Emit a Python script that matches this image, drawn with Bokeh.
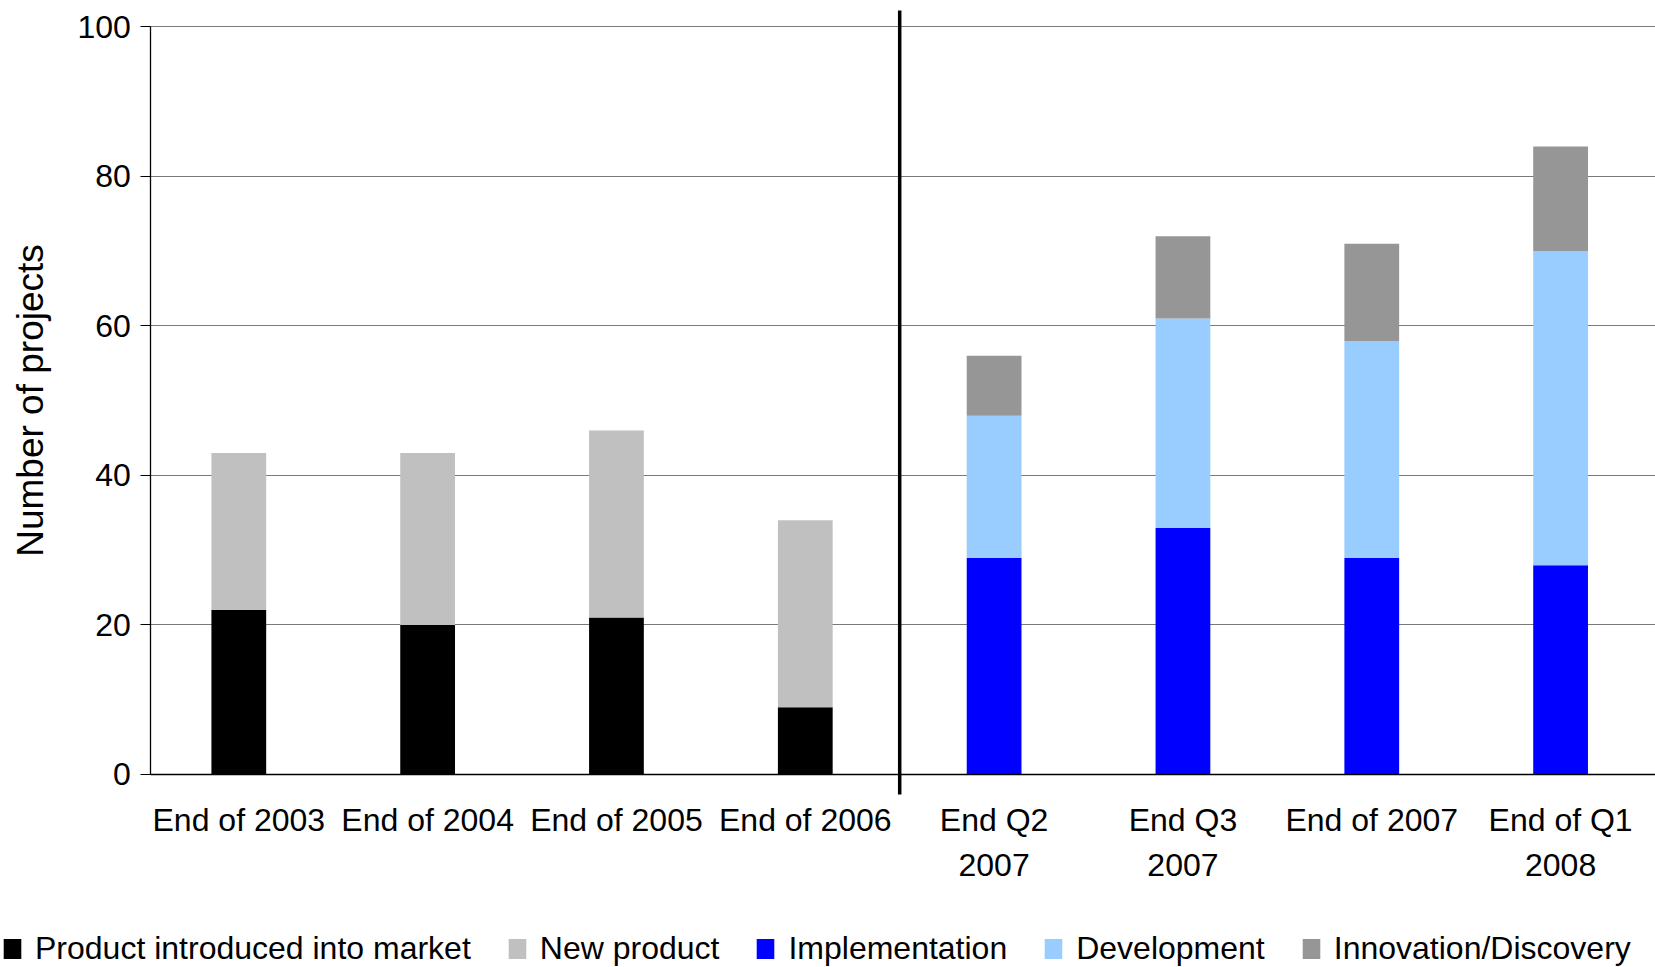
from bokeh.plotting import figure
from bokeh.models import ColumnDataSource, Range1d, Legend, LegendItem, Grid, FixedTicker
from bokeh.embed import file_html
from bokeh.resources import INLINE

categories = ["End of 2003", "End of 2004", "End of 2005", "End of 2006",
              "End Q2\n2007", "End Q3\n2007", "End of 2007", "End of Q1\n2008"]
product_introduced = [22, 20, 21, 9, 0, 0, 0, 0]
new_product = [21, 23, 25, 25, 0, 0, 0, 0]
implementation = [0, 0, 0, 0, 29, 33, 29, 28]
development = [0, 0, 0, 0, 19, 28, 29, 42]
innovation = [0, 0, 0, 0, 8, 11, 13, 14]
series_names = ["Product introduced into market", "New product", "Implementation",
                "Development", "Innovation/Discovery"]
colors = ["#000000", "#c0c0c0", "#0000ff", "#99ccff", "#969696"]
y_ticks = [0, 20, 40, 60, 80, 100]
y_label = "Number of projects"
n_left = 4  # categories before the vertical divider

FONT = "Liberation Sans"
keys = ["s0", "s1", "s2", "s3", "s4"]
idx = list(range(len(categories)))
source = ColumnDataSource(dict(x=idx, s0=product_introduced, s1=new_product,
                               s2=implementation, s3=development, s4=innovation))

X0, X1 = -1.262, 7.5026       # frame covers whole canvas
Y0, Y1 = -25.82, 103.53
AX = -0.4661                  # x position of the value axis
Y_TOP = 102.19                # top of divider / plot area
Y_BOT = -2.675                # bottom of divider

p = figure(width=1655, height=967,
           x_range=Range1d(X0, X1), y_range=Range1d(Y0, Y1),
           output_backend="svg", toolbar_location=None,
           min_border_left=0, min_border_right=0, min_border_top=0, min_border_bottom=0)
p.outline_line_color = None
p.background_fill_color = "white"
p.border_fill_color = "white"

renderers = p.vbar_stack(keys, x="x", width=0.29, source=source,
                         fill_color=colors, line_color=None)

# horizontal grid lines, starting at the value axis
p.xgrid.visible = False
if "cross_bounds" in Grid.properties():
    p.ygrid.ticker = FixedTicker(ticks=y_ticks)
    p.ygrid.cross_bounds = (AX, X1)
    p.ygrid.grid_line_color = "#7a7a7a"
    p.ygrid.grid_line_width = 1
else:
    p.ygrid.visible = False
    p.segment(x0=[AX] * len(y_ticks), x1=[X1] * len(y_ticks), y0=y_ticks, y1=y_ticks,
              line_color="#7a7a7a", line_width=1, level="underlay")

# y axis
p.yaxis.fixed_location = AX
p.yaxis.ticker = y_ticks
p.yaxis.bounds = (0, 100)
p.yaxis.axis_line_color = "black"
p.yaxis.axis_line_width = 1.3
p.yaxis.major_tick_out = 10
p.yaxis.major_tick_in = 0
p.yaxis.major_tick_line_color = "black"
p.yaxis.minor_tick_line_color = None
p.yaxis.major_label_text_font = FONT
p.yaxis.major_label_text_font_size = "32px"
p.yaxis.major_label_text_color = "black"
p.yaxis.major_label_standoff = 10
p.yaxis.axis_label = y_label
p.yaxis.axis_label_text_font = FONT
p.yaxis.axis_label_text_font_size = "37px"
p.yaxis.axis_label_text_font_style = "normal"
p.yaxis.axis_label_text_color = "black"
p.yaxis.axis_label_standoff = 23

# x axis (category axis at y = 0)
p.xaxis.fixed_location = 0
p.xaxis.bounds = (AX, X1)
p.xaxis.ticker = idx
p.xaxis.major_label_overrides = {i: c for i, c in zip(idx, categories)}
p.xaxis.axis_line_color = "black"
p.xaxis.axis_line_width = 1.3
p.xaxis.major_tick_line_color = None
p.xaxis.major_tick_out = 0
p.xaxis.major_tick_in = 0
p.xaxis.minor_tick_line_color = None
p.xaxis.major_label_text_font = FONT
p.xaxis.major_label_text_font_size = "32px"
p.xaxis.major_label_text_color = "black"
p.xaxis.major_label_text_line_height = 1.24
p.xaxis.major_label_standoff = 28

# vertical divider between yearly and quarterly figures
sep = n_left - 0.5
p.segment(x0=[sep], x1=[sep], y0=[Y_BOT], y1=[Y_TOP], line_color="black", line_width=3.5)

legend = Legend(items=[LegendItem(label=n, renderers=[r]) for n, r in zip(series_names, renderers)],
                orientation="horizontal", location=(1, 0), nrows=1,
                glyph_width=22, glyph_height=25, label_standoff=12, spacing=35,
                padding=0, margin=0, border_line_color=None, background_fill_alpha=0,
                label_text_font=FONT, label_text_font_size="32px", label_text_color="black")
p.add_layout(legend)

open("out.html", "w").write(file_html(p, INLINE))
